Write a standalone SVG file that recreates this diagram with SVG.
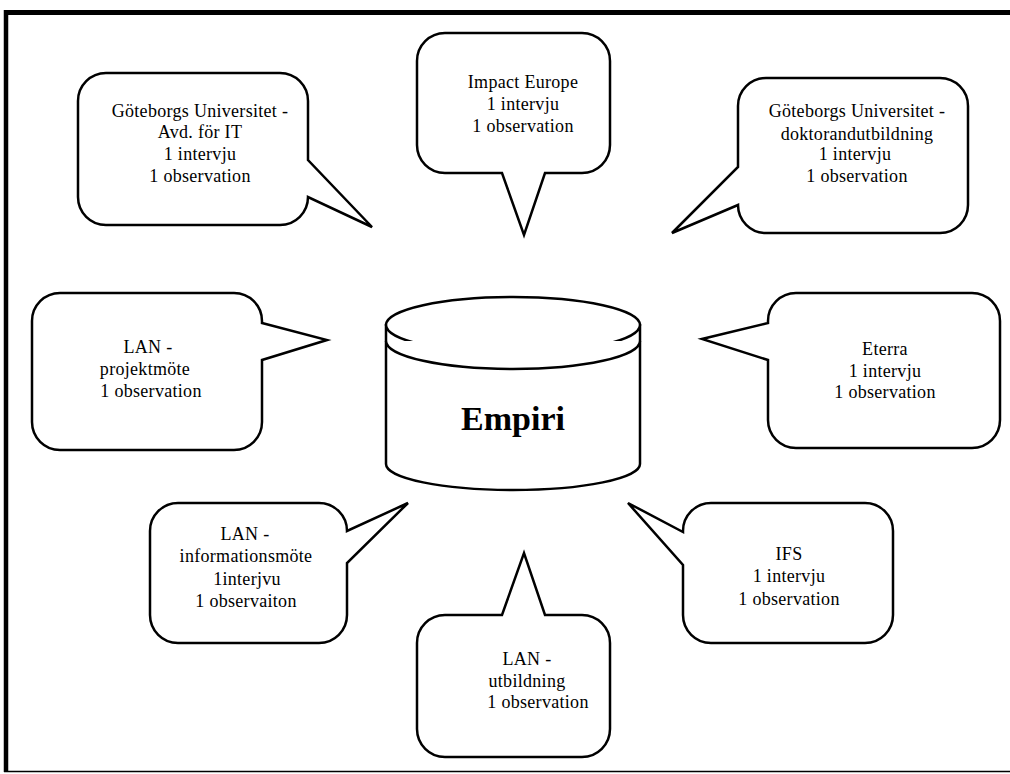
<svg xmlns="http://www.w3.org/2000/svg" width="1010" height="774" viewBox="0 0 1010 774">
<style>
.b{fill:#fff;stroke:#000;stroke-width:2.5;stroke-linejoin:miter}
.t{font-family:"Liberation Serif","Times New Roman",serif;font-size:18px;letter-spacing:0.3px;fill:#000;text-anchor:middle}
.big{font-family:"Liberation Serif","Times New Roman",serif;font-size:34px;font-weight:bold;fill:#000;text-anchor:middle}
</style>
<rect width="1010" height="774" fill="#fff"/>
<g id="frame" stroke="#000" fill="none">
<line x1="4" y1="12.5" x2="1010" y2="12.5" stroke-width="5"/>
<line x1="6" y1="10" x2="6" y2="772" stroke-width="4.5"/>
<line x1="4" y1="771.5" x2="1010" y2="771.5" stroke-width="1.5"/>
</g>
<g id="connectors"/>
<g id="empiri">
<path class="b" d="M386,325 V464 A127,26 0 0 0 640,464 V325 Z"/>
<ellipse class="b" cx="513" cy="325" rx="127" ry="28"/>
<path class="b" fill="none" d="M386,341 A127,28 0 0 0 640,341"/>
<text class="big" x="513" y="430">Empiri</text>
</g>
<g id="gu-it">
<path class="b" d="M106,73 H280 A28,28 0 0 1 308,101 V160 L372,227 L308,197 A28,28 0 0 1 280,225 H106 A28,28 0 0 1 78,197 V101 A28,28 0 0 1 106,73 Z"/>
<text class="t" x="200" y="117">Göteborgs Universitet -</text>
<text class="t" x="200" y="138">Avd. för IT</text>
<text class="t" x="200" y="160">1 intervju</text>
<text class="t" x="200" y="182">1 observation</text>
</g>
<g id="impact">
<path class="b" d="M445,33 H582 A28,28 0 0 1 610,61 V145 A28,28 0 0 1 582,173 H545 L524,235 L502,173 H445 A28,28 0 0 1 417,145 V61 A28,28 0 0 1 445,33 Z"/>
<text class="t" x="523" y="88">Impact Europe</text>
<text class="t" x="523" y="110">1 intervju</text>
<text class="t" x="523" y="132">1 observation</text>
</g>
<g id="gu-dok">
<path class="b" d="M766,78 H940 A28,28 0 0 1 968,106 V205 A28,28 0 0 1 940,233 H766 A28,28 0 0 1 738,205 L672,233 L738,167 V106 A28,28 0 0 1 766,78 Z"/>
<text class="t" x="857" y="117">Göteborgs Universitet -</text>
<text class="t" x="857" y="140">doktorandutbildning</text>
<text class="t" x="855" y="160">1 intervju</text>
<text class="t" x="857" y="182">1 observation</text>
</g>
<g id="lan-projekt">
<path class="b" d="M60,293 H234 A28,28 0 0 1 262,321 V323 L327,340 L262,360 V422 A28,28 0 0 1 234,450 H60 A28,28 0 0 1 32,422 V321 A28,28 0 0 1 60,293 Z"/>
<text class="t" x="148" y="353">LAN -</text>
<text class="t" x="145" y="375">projektmöte</text>
<text class="t" x="151" y="397">1 observation</text>
</g>
<g id="eterra">
<path class="b" d="M796,293 H972 A28,28 0 0 1 1000,321 V420 A28,28 0 0 1 972,448 H796 A28,28 0 0 1 768,420 V360 L702,339 L768,323 V321 A28,28 0 0 1 796,293 Z"/>
<text class="t" x="885" y="355">Eterra</text>
<text class="t" x="885" y="377">1 intervju</text>
<text class="t" x="885" y="398">1 observation</text>
</g>
<g id="lan-info">
<path class="b" d="M178,503 H319 A28,28 0 0 1 347,531 L408,503 L347,563 V615 A28,28 0 0 1 319,643 H178 A28,28 0 0 1 150,615 V531 A28,28 0 0 1 178,503 Z"/>
<text class="t" x="245" y="540">LAN -</text>
<text class="t" x="246" y="562">informationsmöte</text>
<text class="t" x="247" y="585">1interjvu</text>
<text class="t" x="246" y="607">1 observaiton</text>
</g>
<g id="ifs">
<path class="b" d="M711,503 H865 A28,28 0 0 1 893,531 V615 A28,28 0 0 1 865,643 H711 A28,28 0 0 1 683,615 V565 L628,503 L683,532 V531 A28,28 0 0 1 711,503 Z"/>
<text class="t" x="789" y="560">IFS</text>
<text class="t" x="789" y="582">1 intervju</text>
<text class="t" x="789" y="605">1 observation</text>
</g>
<g id="lan-utb">
<path class="b" d="M445,615 H502 L524,553 L545,615 H582 A28,28 0 0 1 610,643 V729 A28,28 0 0 1 582,757 H445 A28,28 0 0 1 417,729 V643 A28,28 0 0 1 445,615 Z"/>
<text class="t" x="527" y="665">LAN -</text>
<text class="t" x="527" y="687">utbildning</text>
<text class="t" x="538" y="708">1 observation</text>
</g>
</svg>
